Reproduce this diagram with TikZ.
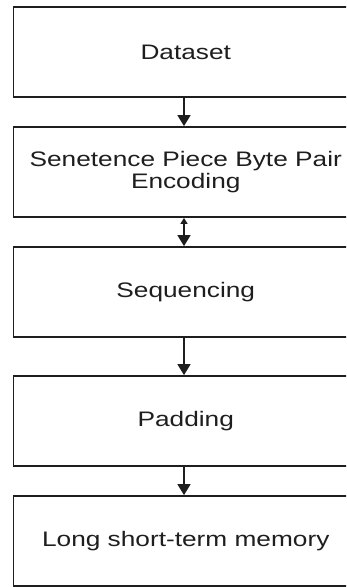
\documentclass[tikz,border=0pt]{standalone}
\usepackage{fontspec}
\setmainfont{Liberation Sans}
\usetikzlibrary{arrows.meta}
\definecolor{ink}{HTML}{1E1E1E}
\tikzset{
  stage/.style={draw=ink, line width=1.8pt, rectangle, minimum width=344.5pt, minimum height=90pt,
    inner sep=0pt, text=ink, align=center, font=\fontsize{21}{22.5}\selectfont},
  flow/.style={draw=ink, line width=1.6pt, -{Triangle[width=13pt,length=11pt]}},
  flowboth/.style={draw=ink, line width=1.6pt, {Triangle[width=7pt,length=6pt]}-{Triangle[width=13pt,length=11pt]}}
}
\newcommand{\wide}[1]{\scalebox{1.25}[1]{#1}}
\begin{document}
\begin{tikzpicture}[x=1pt,y=-1pt]
\useasboundingbox (0,0) rectangle (346,587);
\clip (0,0) rectangle (346,587);
\node[stage] (ds) at (185.75,52) {\wide{Dataset}};
\node[stage] (bpe) at (185.75,172) {\wide{Senetence Piece Byte Pair}\\\wide{Encoding}};
\node[stage] (seq) at (185.75,292) {\wide{Sequencing}};
\node[stage] (pad) at (185.75,421) {\wide{Padding}};
\node[stage] (lstm) at (185.75,541) {\wide{Long short-term memory}};
\draw[flow] (ds.south -| 184,0) -- (bpe.north -| 184,0);
\draw[flowboth] (bpe.south -| 184,0) -- (seq.north -| 184,0);
\draw[flow] (seq.south -| 184,0) -- (pad.north -| 184,0);
\draw[flow] (pad.south -| 184,0) -- (lstm.north -| 184,0);
\end{tikzpicture}
\end{document}
